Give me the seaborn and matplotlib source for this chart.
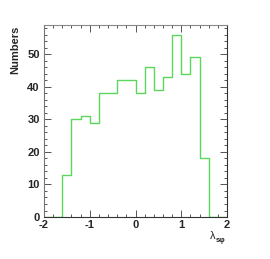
import numpy as np
import pandas as pd
import matplotlib
matplotlib.use("Agg")
import matplotlib.pyplot as plt
import seaborn as sns
from matplotlib.ticker import MultipleLocator

bin_edges = [-2.0, -1.8, -1.6, -1.4, -1.2, -1.0, -0.8, -0.6, -0.4, -0.2, 0.0,
             0.2, 0.4, 0.6, 0.8, 1.0, 1.2, 1.4, 1.6, 1.8, 2.0]
counts = [0, 0, 13, 30, 31, 29, 38, 38, 42, 42, 38, 46, 39, 43, 56, 44, 49, 18, 0, 0]
x_ticks = [-2, -1, 0, 1, 2]
x_tick_labels = ["-2", "-1", "0", "1", "2"]
y_ticks = [0, 10, 20, 30, 40, 50]

centers = [(a + b) / 2 for a, b in zip(bin_edges[:-1], bin_edges[1:])]
df = pd.DataFrame({"lam": centers, "n": counts})

sns.set_style("ticks")
plt.rcParams['font.family'] = ['Liberation Sans', 'DejaVu Sans']

fig = plt.figure(figsize=(2.70, 2.59), dpi=100)
ax = fig.add_axes([0.163, 0.162, 0.678, 0.740])

sns.histplot(data=df, x="lam", weights="n", bins=bin_edges, element="step",
             fill=False, color="#5cd65c", linewidth=1.0, ax=ax)

ax.set_xlim(-2, 2)
ax.set_ylim(0, 58.8)
ax.set_xticks(x_ticks)
ax.set_xticklabels(x_tick_labels)
ax.set_yticks(y_ticks)
ax.xaxis.set_minor_locator(MultipleLocator(0.2))
ax.yaxis.set_minor_locator(MultipleLocator(2))
ax.tick_params(which="both", direction="in", top=True, right=True,
               labeltop=False, labelright=False, width=0.7, color="#555555")
ax.tick_params(which="major", length=5, labelsize=8, pad=2)
ax.tick_params(axis="y", which="major", pad=3)
ax.tick_params(which="minor", length=2.5)
for lab in ax.get_xticklabels() + ax.get_yticklabels():
    lab.set_fontweight("bold")
for s in ax.spines.values():
    s.set_linewidth(0.8)
    s.set_color("#333333")
ax.spines["top"].set_color("#888888")
ax.spines["left"].set_color("#777777")

ax.set_ylabel("Numbers", fontsize=8, fontweight="bold", loc="top", labelpad=5)
ax.set_xlabel("")
ax.text(0.935, -0.075, "λ", transform=ax.transAxes,
        ha="right", va="top", fontsize=8)
ax.text(0.94, -0.105, "sφ", transform=ax.transAxes,
        ha="left", va="top", fontsize=5.5, fontweight="bold")

fig.savefig("out.png", dpi=100)
